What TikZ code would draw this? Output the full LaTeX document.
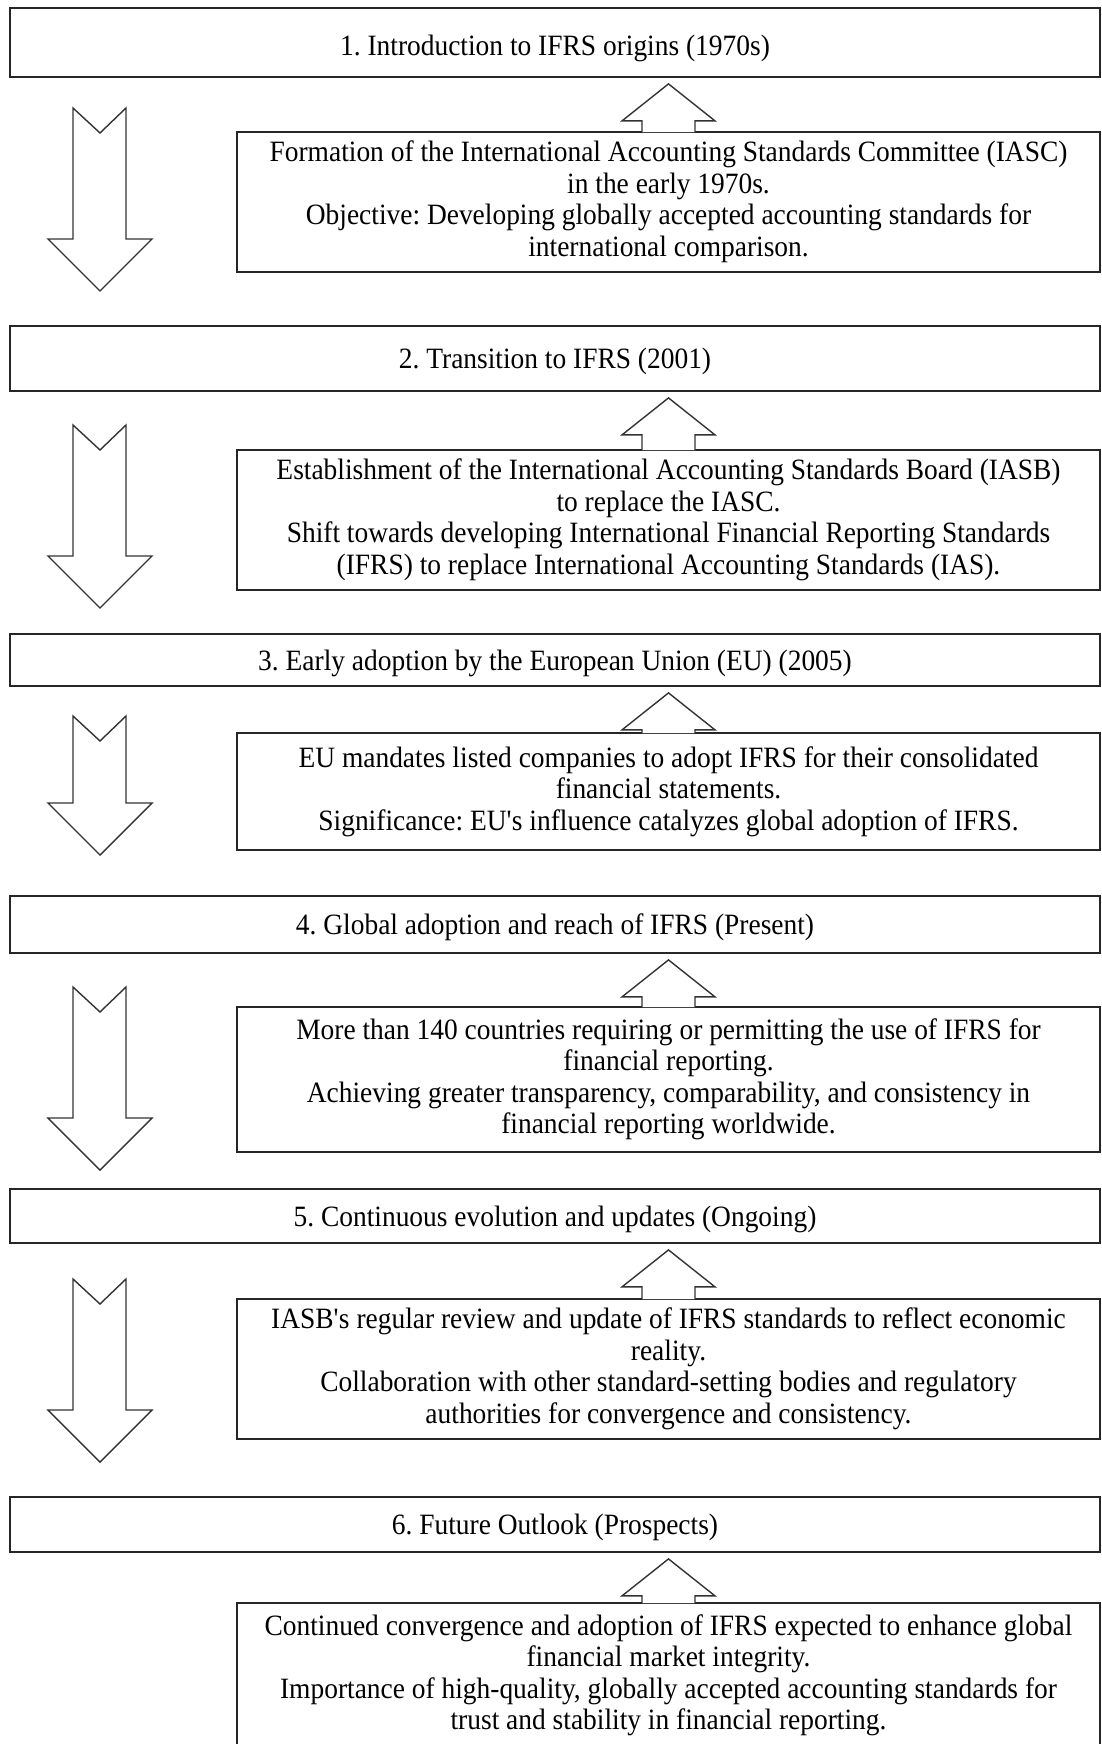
\documentclass[tikz,border=0pt]{standalone}
\usepackage{fontspec}
\setmainfont{Liberation Serif}[FakeStretch=0.93]
\usepackage{tikz}
\usetikzlibrary{calc}
\frenchspacing

% block arrow from an info box up to its title box
\newcommand{\blockup}[2]{%
  \draw[blockarr] let \p1=(#1.north), \p2=(#2.south) in
    (\x1-26.5pt,\y1-1pt) -- (\x1-26.5pt,\y2-43pt) -- (\x1-46.5pt,\y2-43pt)
    -- (\x1,\y2-6pt) -- (\x1+46.5pt,\y2-43pt) -- (\x1+26.5pt,\y2-43pt)
    -- (\x1+26.5pt,\y1-1pt);
}

\begin{document}
\begin{tikzpicture}[x=1pt, y=-1pt,
	every node/.style={font=\fontsize{29.5}{31.5}\selectfont, align=center, inner sep=0pt},
	titlebox/.style={draw=black!85, line width=1.8pt, minimum width=1090pt, text height=27pt, text depth=7pt},
	infobox/.style={draw=black!85, line width=1.8pt, minimum width=863pt},
	blockarr/.style={draw=black!80, line width=1.4pt, fill=white, line join=miter}]
	\useasboundingbox (0,0) rectangle (1102,1744);
	\clip (0,0) rectangle (1102,1744);

	% title boxes
	\node[titlebox, minimum height=69pt, text height=32pt, text depth=6pt] (t1) at (555,42.5) {1. Introduction to IFRS origins (1970s)};
	\node[titlebox, minimum height=65pt] (t2) at (555,358.5) {2. Transition to IFRS (2001)};
	\node[titlebox, minimum height=52pt] (t3) at (555,660) {3. Early adoption by the European Union (EU) (2005)};
	\node[titlebox, minimum height=57pt] (t4) at (555,924.5) {4. Global adoption and reach of IFRS (Present)};
	\node[titlebox, minimum height=54pt] (t5) at (555,1216) {5. Continuous evolution and updates (Ongoing)};
	\node[titlebox, minimum height=55pt] (t6) at (555,1524.5) {6. Future Outlook (Prospects)};

	% info boxes
	\node[infobox, minimum height=140pt] (d1) at (668.5,202) {Formation of the International Accounting Standards Committee (IASC)\\ in the early 1970s.\\ Objective: Developing globally accepted accounting standards for\\ international comparison.};
	\node[infobox, minimum height=140pt] (d2) at (668.5,520) {Establishment of the International Accounting Standards Board (IASB)\\ to replace the IASC.\\ Shift towards developing International Financial Reporting Standards\\ (IFRS) to replace International Accounting Standards (IAS).};
	\node[infobox, minimum height=117pt] (d3) at (668.5,791.5) {EU mandates listed companies to adopt IFRS for their consolidated\\ financial statements.\\ Significance: EU\textquotesingle s influence catalyzes global adoption of IFRS.};
	\node[infobox, minimum height=145pt] (d4) at (668.5,1079.5) {More than 140 countries requiring or permitting the use of IFRS for\\ financial reporting.\\ Achieving greater transparency, comparability, and consistency in\\ financial reporting worldwide.};
	\node[infobox, minimum height=140pt] (d5) at (668.5,1369) {IASB\textquotesingle s regular review and update of IFRS standards to reflect economic\\ reality.\\ Collaboration with other standard-setting bodies and regulatory\\ authorities for convergence and consistency.};
	\node[infobox, minimum height=145pt] (d6) at (668.5,1675.5) {Continued convergence and adoption of IFRS expected to enhance global\\ financial market integrity.\\ Importance of high-quality, globally accepted accounting standards for\\ trust and stability in financial reporting.};

	% up arrows
	\foreach \i in {1,...,6}
		\blockup{d\i}{t\i};

	% down arrows on the left
	\foreach \ya/\yb in {108/291, 425/608, 716/855, 987/1170, 1279/1462}
		\draw[blockarr] (73,\ya) -- (100,\ya+25) -- (126,\ya) -- (126,\yb-52) -- (152,\yb-52)
			-- (100,\yb) -- (48,\yb-52) -- (73,\yb-52) -- cycle;
\end{tikzpicture}
\end{document}
